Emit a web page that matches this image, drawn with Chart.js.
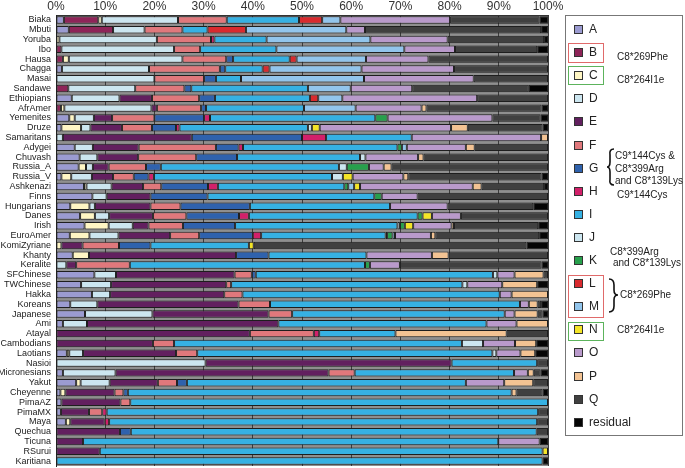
<!DOCTYPE html>
<html lang="en">
<head>
  <meta charset="UTF-8" />
  <title>Haplotype frequencies by population</title>
  <script src="https://cdn.jsdelivr.net/npm/chart.js"></script>
  <style>
    * { margin: 0; padding: 0; box-sizing: border-box; }
    body { width: 685px; height: 468px; background: #fff; overflow: hidden; font-family: 'Liberation Sans', Arial, sans-serif; }
    #wrap { position: relative; width: 685px; height: 468px; }
    #chart { position: absolute; left: 0; top: 0; }
    #legendBox { position: absolute; left: 565px; top: 15px; width: 118px; height: 421px; border: 1px solid #777; }
    .item { position: absolute; left: 0; height: 12px; }
    .sw { position: absolute; left: 8px; top: 1px; width: 9px; height: 9px; border: 1px solid #333; }
    .lab { position: absolute; left: 23px; top: -2px; font-size: 12px; color: #222; white-space: nowrap; }
    .note { position: absolute; font-size: 10px; color: #222; white-space: nowrap; line-height: 11px; }
    .frame { position: absolute; border: 1px solid; }
    svg { position: absolute; left: 0; top: 0; }
  </style>
</head>
<body>
<div id="wrap">
  <canvas id="chart" width="685" height="468"></canvas>
  <div id="legendBox"></div>

  <div class="frame" style="left:568px;top:43px;width:36px;height:20px;border-color:#e06a6a"></div>
  <div class="frame" style="left:568px;top:66px;width:36px;height:19px;border-color:#5cb35c"></div>
  <div class="frame" style="left:568px;top:275px;width:36px;height:43px;border-color:#e06a6a"></div>
  <div class="frame" style="left:568px;top:322px;width:36px;height:19px;border-color:#5cb35c"></div>

  <div class="note" style="left:617px;top:51px">C8*269Phe</div>
  <div class="note" style="left:617px;top:74px">C8*264I1e</div>
  <div class="note" style="left:615px;top:150px">C9*144Cys &amp;</div>
  <div class="note" style="left:615px;top:163px">C8*399Arg</div>
  <div class="note" style="left:615px;top:175px">and C8*139Lys</div>
  <div class="note" style="left:617px;top:189px">C9*144Cys</div>
  <div class="note" style="left:610px;top:246px">C8*399Arg</div>
  <div class="note" style="left:613px;top:257px">and C8*139Lys</div>
  <div class="note" style="left:620px;top:289px">C8*269Phe</div>
  <div class="note" style="left:617px;top:324px">C8*264I1e</div>

  <svg width="685" height="468">
    <path d="M614 149 Q609 149 610 155 L610 162 Q610 167 607 167 Q610 167 610 172 L610 179 Q609 185 614 185" fill="none" stroke="#111" stroke-width="1.6"/>
    <path d="M609 279 Q614 279 614 285 L614 290 Q614 295 618 295 Q614 295 614 300 L614 306 Q614 312 609 312" fill="none" stroke="#111" stroke-width="1.6"/>
  </svg>
</div>

<script>
  const populations = ['Biaka', 'Mbuti', 'Yoruba', 'Ibo', 'Hausa', 'Chagga', 'Masai', 'Sandawe', 'Ethiopians', 'AfrAmer',
    'Yemenites', 'Druze', 'Samaritans', 'Adygei', 'Chuvash', 'Russia_A', 'Russia_V', 'Ashkenazi', 'Finns', 'Hungarians',
    'Danes', 'Irish', 'EuroAmer', 'KomiZyriane', 'Khanty', 'Keralite', 'SFChinese', 'TWChinese', 'Hakka', 'Koreans',
    'Japanese', 'Ami', 'Atayal', 'Cambodians', 'Laotians', 'Nasioi', 'Micronesians', 'Yakut', 'Cheyenne', 'PimaAZ',
    'PimaMX', 'Maya', 'Quechua', 'Ticuna', 'RSurui', 'Karitiana'];

  const tickLabels = ['0%', '10%', '20%', '30%', '40%', '50%', '60%', '70%', '80%', '90%', '100%'];

  const seriesNames = ['A', 'B', 'C', 'D', 'E', 'F', 'G', 'H', 'I', 'J', 'K', 'L', 'M', 'N', 'O', 'P', 'Q', 'residual'];
  const seriesColors = ['#9b9bd1', '#8e2458', '#fff6c4', '#cce6f0', '#62205f', '#e0787c', '#2f62ad', '#d2206a', '#36b1e3',
    '#cce6f0', '#27a04c', '#d92a2e', '#92c5ec', '#f4e527', '#b99acb', '#f3c393', '#404040', '#050505'];

  const valuesA = [1.6, 2.6, 0, 0, 0, 1.2, 0, 0, 3.2, 0, 2.7, 1.1, 0, 3.8, 4.8, 4.6, 1.1, 5.7, 7.4, 2.9,
    4.9, 5.8, 2.8, 0, 3.4, 0, 7.8, 5.1, 7.3, 2.9, 5.9, 1.4, 0, 0, 2.2, 0, 1.4, 4.1, 0.9, 1.1, 1.0, 2.0, 0, 0, 0, 0];
  const valuesB = [7.0, 9.0, 0, 1.1, 1.4, 0, 0, 2.5, 0, 1.0, 0, 0, 0, 0, 0, 0, 0, 0, 0, 0,
    0, 0, 0, 0, 0, 0, 0, 0, 0, 0, 0, 0, 0, 0, 0, 0, 0, 0, 0, 0, 0, 0, 0, 0, 0, 0];
  const valuesC = [0.7, 0, 0.7, 0, 1.2, 0, 0, 0, 0, 0.7, 1.1, 4.0, 0, 0, 0, 1.5, 2.0, 0.5, 0, 3.9,
    3.0, 4.9, 4.0, 1.1, 3.3, 0, 0, 0, 0, 0, 0, 0, 0, 0, 0.5, 0, 0, 0.9, 1.0, 0, 0, 0.9, 0, 0, 0, 0];
  const valuesD = [15.5, 6.4, 19.8, 22.9, 23.1, 17.7, 20.0, 13.6, 9.7, 17.7, 3.9, 1.9, 1.4, 3.7, 3.6, 1.4, 4.2, 5.1, 2.9, 1.1,
    2.9, 4.9, 5.9, 0, 0, 2.1, 4.4, 6.1, 3.7, 5.5, 13.7, 4.9, 0, 0, 2.8, 30.4, 10.7, 5.9, 0, 0, 0, 0, 0, 0, 0, 0];
  const valuesE = [0, 0, 0, 0, 0, 0, 0, 0, 6.6, 1.1, 3.7, 6.4, 26.2, 9.3, 8.3, 3.2, 4.3, 6.4, 8.9, 11.3,
    8.9, 3.2, 10.5, 4.3, 29.9, 2.0, 24.1, 23.4, 23.2, 28.7, 23.6, 38.9, 39.4, 19.7, 18.9, 50.0, 43.3, 9.8, 10.0, 12.0,
    5.7, 7.0, 13.0, 5.5, 8.9, 0];
  const valuesF = [9.9, 7.7, 11.0, 5.3, 8.9, 14.4, 10.1, 10.0, 9.6, 9.0, 8.6, 6.1, 0, 15.7, 11.8, 7.6, 4.2, 3.7, 0, 6.1,
    6.8, 7.0, 5.9, 7.4, 0, 10.9, 3.5, 1.0, 3.7, 6.4, 4.8, 0, 13.0, 4.3, 4.3, 0, 5.3, 3.9, 1.8, 2.0, 2.7, 0, 0, 0, 0, 0];
  const valuesG = [0, 0, 0, 0, 1.4, 1.1, 2.4, 1.4, 3.2, 1.0, 10.1, 4.9, 22.4, 4.6, 8.3, 3.0, 3.0, 9.5, 11.6, 14.1,
    10.7, 10.6, 10.9, 6.4, 6.6, 0, 0.8, 0, 0, 0, 0, 0, 0, 0, 0, 0, 0, 2.0, 0.9, 0, 0, 0, 2.2, 0, 0, 0];
  const valuesH = [0, 0, 0.7, 0, 0, 0, 0, 0, 0, 0, 1.2, 0.7, 4.9, 0.9, 0, 0, 1.1, 2.0, 0, 0,
    2.0, 0, 1.7, 0, 0, 0, 0, 0, 0, 0, 0, 0, 1.1, 0, 0, 0, 0, 0, 0, 0, 0.9, 0.9, 0, 0, 0, 0];
  const valuesI = [14.7, 5.1, 10.6, 15.5, 11.5, 7.6, 5.1, 23.7, 19.3, 19.9, 33.6, 26.1, 17.4, 31.4, 25.0, 36.2, 36.2, 25.7, 33.9, 28.5,
    34.3, 33.0, 25.3, 20.0, 19.9, 47.8, 48.2, 47.0, 52.3, 50.8, 43.2, 42.3, 15.5, 58.5, 60.0, 17.4, 32.4, 56.7, 78.0, 84.9,
    87.7, 87.0, 82.5, 84.4, 90.0, 98.9];
  const valuesJ = [0, 0, 0, 0, 0, 0, 0, 0, 0, 0, 0, 0.8, 0, 0, 1.1, 1.6, 2.2, 0, 0, 0,
    0, 0.5, 0.3, 0, 0, 0, 0.9, 1.0, 0, 0, 0, 0, 0, 4.3, 0.8, 0, 0, 0, 0, 0, 0, 0, 0, 0, 0, 0];
  const valuesK = [0, 0, 0, 0, 0, 0, 0, 0, 0, 0, 2.5, 0, 0, 0.9, 0, 4.5, 0, 0.8, 1.5, 0,
    1.0, 1.0, 1.1, 0, 0, 1.0, 0, 0, 0, 0, 0, 0, 0, 0, 0, 0, 0, 0, 0, 0, 0, 0, 0, 0, 0, 0];
  const valuesL = [4.7, 7.8, 0, 0, 1.4, 1.4, 0, 0, 1.7, 0, 0, 0, 0, 0, 0, 0, 0, 0, 0, 0,
    0, 0, 0, 0, 0, 0, 0, 0, 0, 0, 0, 0, 0, 0, 0, 0, 0, 0, 0, 0, 0, 0, 0, 0, 0, 0];
  const valuesM = [3.7, 20.4, 21.1, 26.0, 14.1, 18.7, 25.0, 8.7, 4.9, 10.5, 0, 0, 0, 1.0, 0, 0, 0, 1.2, 0, 0,
    0, 0, 0.5, 0, 0, 0, 0, 0, 0, 0, 0, 0, 0, 0, 0, 0, 0, 0, 0, 0, 0, 0, 0, 0, 0, 0];
  const valuesN = [0, 0, 0, 0, 0, 0, 0, 0, 0, 0, 0, 1.6, 0, 0, 0, 0, 2.0, 1.2, 0, 0,
    1.9, 1.7, 0, 1.0, 0, 0, 0, 0, 0, 0, 0, 0, 0, 0, 0, 0, 0, 0, 0, 0, 0, 0, 0, 0, 1.1, 0];
  const valuesO = [22.3, 3.8, 15.7, 10.3, 12.7, 18.8, 22.3, 12.5, 27.4, 13.4, 21.3, 26.7, 26.3, 12.0, 10.7, 3.0, 10.3, 22.9, 7.3, 11.7,
    5.9, 7.8, 7.3, 0, 13.3, 6.1, 3.5, 7.1, 2.4, 1.8, 2.0, 6.1, 0, 6.5, 4.9, 0, 2.8, 7.8, 0, 0, 0, 0, 0, 8.4, 0, 0];
  const valuesP = [0, 0, 0, 0, 0, 0, 0, 0, 0, 1.0, 0, 3.4, 1.4, 1.8, 1.1, 1.6, 1.0, 1.8, 0, 0,
    0, 0.5, 0.9, 0, 3.4, 0, 5.9, 7.1, 7.4, 1.8, 4.7, 6.4, 22.6, 4.3, 3.0, 0, 1.2, 5.9, 1.0, 0, 0, 0, 0, 0, 0, 0];
  const valuesQ = [18.2, 35.8, 19.6, 16.7, 24.3, 19.1, 15.1, 23.7, 14.4, 23.4, 9.8, 15.2, 0, 14.9, 25.3, 31.8, 27.1, 12.7, 26.5, 17.4,
    17.7, 17.1, 21.1, 55.4, 20.2, 28.8, 0.9, 0, 0, 0.7, 1.0, 0, 8.4, 0, 0, 2.2, 1.4, 3.0, 5.3, 0, 2.0, 2.2, 2.3, 0, 0, 0];
  const valuesResidual = [1.8, 1.5, 0.8, 2.2, 0, 0, 0, 3.9, 0, 1.3, 1.5, 1.1, 0, 0, 0, 0, 1.3, 0.8, 0, 3.0,
    0, 2.0, 1.8, 4.4, 0, 1.3, 0, 2.2, 0, 1.4, 1.1, 0, 0, 2.4, 2.6, 0, 1.5, 0, 1.1, 0, 0, 0, 0, 1.7, 0, 1.1];

  const allValues = [valuesA, valuesB, valuesC, valuesD, valuesE, valuesF, valuesG, valuesH, valuesI, valuesJ,
    valuesK, valuesL, valuesM, valuesN, valuesO, valuesP, valuesQ, valuesResidual];

  // gray plot background behind the bars
  const plotBackground = {
    id: 'plotBackground',
    beforeDraw(chart) {
      const { ctx, chartArea: a } = chart;
      ctx.save();
      ctx.fillStyle = '#8f8f8f';
      ctx.fillRect(a.left, a.top, a.right - a.left, a.bottom - a.top);
      ctx.restore();
    }
  };

  const datasets = seriesNames.map((name, i) => ({
    label: name,
    data: allValues[i].map(v => v || null),
    backgroundColor: seriesColors[i],
    borderColor: '#1e1e1e',
    borderWidth: 1,
    borderSkipped: false,
    barPercentage: 0.76,
    categoryPercentage: 1
  }));

  new Chart(document.getElementById('chart'), {
    type: 'bar',
    data: { labels: populations, datasets: datasets },
    options: {
      indexAxis: 'y',
      responsive: false,
      animation: false,
      layout: { padding: { left: 0, right: 137, top: 0, bottom: 2 } },
      plugins: { legend: { display: false }, tooltip: { enabled: false } },
      scales: {
        x: {
          position: 'top',
          stacked: true,
          min: 0,
          max: 100,
          ticks: {
            stepSize: 10,
            padding: 1,
            color: '#333',
            font: { size: 12, family: "'Liberation Sans', Arial, sans-serif" },
            callback: (v) => tickLabels[Math.round(v / 10)]
          },
          grid: { color: '#3c3c3c', drawTicks: false },
          border: { display: true, color: '#333' },
          afterFit: (scale) => { scale.height = 15; }
        },
        y: {
          stacked: true,
          ticks: {
            padding: 5,
            color: '#222',
            autoSkip: false,
            font: { size: 9, family: "'Liberation Sans', Arial, sans-serif" }
          },
          grid: { display: false, drawTicks: false },
          border: { display: true, color: '#222' },
          afterFit: (scale) => {
            scale.width = 56;
            scale.paddingTop = 0;
            scale.paddingBottom = 0;
          }
        }
      }
    },
    plugins: [plotBackground]
  });

  // legend box on the right
  const box = document.getElementById('legendBox');
  seriesNames.forEach((name, i) => {
    const item = document.createElement('div');
    item.className = 'item';
    item.style.top = (8 + i * 23.1) + 'px';
    item.innerHTML = '<span class="sw" style="background:' + seriesColors[i] + '"></span><span class="lab">' + name + '</span>';
    box.appendChild(item);
  });
</script>
</body>
</html>
